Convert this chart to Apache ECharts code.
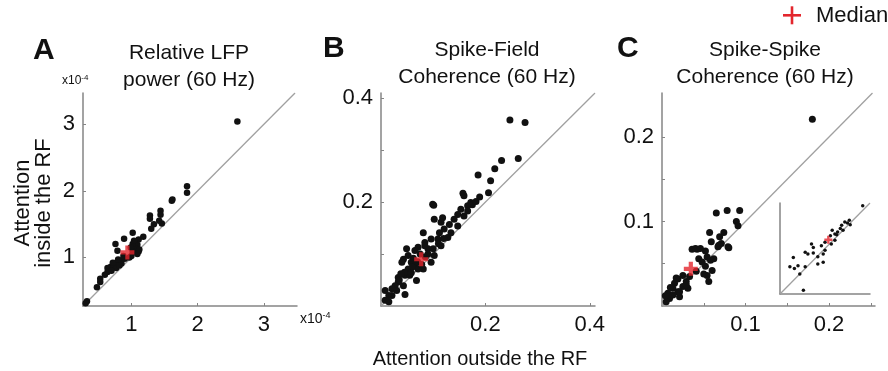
<!DOCTYPE html>
<html><head><meta charset="utf-8">
<script src="https://cdn.jsdelivr.net/npm/echarts@6/dist/echarts.min.js"></script>
<style>html,body{margin:0;padding:0;background:#fff}#c{width:888px;height:371px}</style>
</head><body><div id="c"></div>
<script>
// ---- data ----
const lfpPoints = [[2.60,3.04],[1.84,2.07],[1.84,1.97],[1.61,1.85],[1.62,1.87],[1.44,1.70],[1.44,1.64],[1.46,1.51],[1.42,1.55],[1.34,1.50],[1.28,1.63],[1.28,1.58],[1.30,1.43],[1.18,1.31],[1.11,1.27],[1.02,1.37],[1.09,1.19],[1.11,1.09],[1.06,1.13],[0.89,1.28],[0.76,1.20],[0.79,1.10],[0.84,0.95],[0.79,0.93],[0.74,0.90],[0.69,0.86],[0.64,0.84],[0.77,0.84],[0.64,0.78],[0.53,0.68],[0.48,0.55],[0.53,0.63],[0.33,0.34],[0.31,0.31],[1.02,1.20],[1.04,1.25],[0.97,1.00],[0.90,0.98],[0.85,0.91],[1.02,1.09],[0.99,1.15],[1.09,1.05],[0.80,0.97],[0.72,0.92],[0.88,1.02],[1.00,1.02],[0.70,0.80],[1.12,1.12],[0.82,0.88],[0.60,0.74]];
const lfpMedian = [[0.94,1.075]];
const sfcPoints = [[0.247,0.358],[0.276,0.353],[0.263,0.284],[0.231,0.280],[0.218,0.264],[0.186,0.252],[0.210,0.241],[0.206,0.218],[0.189,0.210],[0.157,0.217],[0.159,0.212],[0.172,0.199],[0.166,0.193],[0.153,0.186],[0.147,0.176],[0.140,0.167],[0.131,0.157],[0.121,0.148],[0.112,0.141],[0.099,0.196],[0.101,0.194],[0.118,0.170],[0.102,0.167],[0.115,0.161],[0.081,0.141],[0.096,0.129],[0.109,0.129],[0.084,0.122],[0.090,0.110],[0.071,0.113],[0.065,0.107],[0.043,0.090],[0.040,0.084],[0.058,0.084],[0.065,0.078],[0.052,0.071],[0.046,0.059],[0.033,0.055],[0.033,0.046],[0.027,0.039],[0.043,0.039],[0.046,0.022],[0.021,0.033],[0.015,0.020],[0.008,0.011],[0.015,0.008],[0.008,0.030],[0.068,0.049],[0.081,0.071],[0.096,0.084],[0.102,0.097],[0.115,0.116],[0.128,0.132],[0.134,0.141],[0.147,0.154],[0.159,0.173],[0.166,0.183],[0.175,0.195],[0.182,0.201],[0.052,0.097],[0.049,0.110],[0.084,0.116],[0.071,0.071],[0.021,0.020],[0.030,0.030],[0.055,0.059],[0.035,0.050],[0.045,0.065],[0.060,0.075],[0.070,0.085],[0.075,0.100],[0.085,0.095],[0.090,0.100],[0.100,0.110],[0.110,0.120],[0.120,0.130],[0.062,0.092],[0.038,0.062],[0.058,0.064],[0.078,0.080]];
const sfcMedian = [[0.077,0.090]];
const sscPoints = [[0.180,0.221],[0.093,0.113],[0.078,0.113],[0.065,0.110],[0.089,0.100],[0.091,0.095],[0.074,0.087],[0.069,0.082],[0.057,0.087],[0.080,0.069],[0.071,0.074],[0.067,0.070],[0.036,0.067],[0.042,0.067],[0.052,0.065],[0.054,0.058],[0.058,0.054],[0.044,0.056],[0.048,0.052],[0.052,0.047],[0.054,0.036],[0.060,0.042],[0.056,0.029],[0.025,0.036],[0.019,0.032],[0.015,0.027],[0.013,0.021],[0.007,0.015],[0.009,0.009],[0.005,0.005],[0.019,0.017],[0.025,0.023],[0.029,0.029],[0.033,0.035],[0.041,0.041],[0.021,0.011],[0.013,0.013],[0.031,0.021],[0.059,0.076],[0.068,0.072],[0.079,0.070],[0.040,0.068],[0.046,0.068],[0.062,0.056],[0.050,0.038],[0.017,0.033],[0.029,0.025],[0.021,0.017],[0.010,0.022],[0.004,0.012]];
const sscMedian = [[0.0345,0.044]];
const insetPoints = [[0.919,0.97],[0.77,0.81],[0.72,0.79],[0.685,0.755],[0.67,0.72],[0.64,0.68],[0.61,0.66],[0.58,0.70],[0.56,0.64],[0.50,0.57],[0.46,0.53],[0.37,0.51],[0.35,0.55],[0.28,0.46],[0.31,0.44],[0.37,0.45],[0.42,0.41],[0.48,0.44],[0.50,0.48],[0.42,0.33],[0.48,0.35],[0.148,0.40],[0.11,0.30],[0.16,0.28],[0.20,0.31],[0.22,0.22],[0.28,0.30],[0.26,0.04],[0.63,0.65],[0.70,0.70],[0.75,0.78],[0.78,0.76],[0.61,0.59],[0.57,0.55]];
const insetMedian = [[0.537,0.596]];
const lfpTicks = [1,2,3];
const sfcXTicks = [0.2,0.4], sfcXLabels = [0.2,0.4];
const sfcYTicks = [0.1,0.2,0.3,0.4], sfcYLabels = [0.2,0.4];
const sscXTicks = [0.05,0.1,0.15,0.2,0.25], sscXLabels = [0.1,0.2];
const sscYTicks = [0.05,0.1,0.15,0.2], sscYLabels = [0.1,0.2];
const ranges = {
  a: {x:[0.27,3.5], y:[0.27,3.47]},
  b: {x:[0,0.41], y:[0,0.41]},
  c: {x:[0,0.255], y:[0,0.252]},
  inset: {x:[0,1], y:[0,1]}
};

const FONT = 'Liberation Sans';
const AX = '#858585';
function axis(gi, rng, ticks, labels, show) {
  return {
    type:'value', gridIndex:gi, min:rng[0], max:rng[1],
    axisLine:{show:true, onZero:false, lineStyle:{color:AX, width:1.5}},
    axisTick:{show:show, inside:true, length:3, customValues:ticks, lineStyle:{color:AX, width:1}},
    axisLabel:{show:show, customValues:labels, color:'#111', fontSize:22, fontFamily:FONT, margin:8},
    splitLine:{show:false}
  };
}
const plus = 'path://M3.5,0h3v3.5h3.5v3h-3.5v3.5h-3v-3.5h-3.5v-3h3.5z';
function diag(i, r) {
  const lo = Math.max(r.x[0], r.y[0]), hi = Math.min(r.x[1], r.y[1]);
  return {type:'line', xAxisIndex:i, yAxisIndex:i, data:[[lo,lo],[hi,hi]], symbol:'none', silent:true,
          lineStyle:{color:'#a0a0a0', width:1.3}, z:1};
}
function dots(i, d, s) {
  return {type:'scatter', xAxisIndex:i, yAxisIndex:i, data:d, symbolSize:s, silent:true,
          itemStyle:{color:'#111', opacity:1}, z:3};
}
function med(i, d, s) {
  return {type:'scatter', xAxisIndex:i, yAxisIndex:i, data:d, symbol:plus, symbolSize:s, silent:true,
          itemStyle:{color:'#e3262d'}, z:5};
}

const chart = echarts.init(document.getElementById('c'), null, {renderer:'canvas'});
chart.setOption({
  animation:false,
  backgroundColor:'#fff',
  textStyle:{fontFamily:FONT},
  grid:[
    {left:83, top:93, width:214, height:213},
    {left:381, top:93, width:214, height:213},
    {left:662, top:93, width:213, height:213},
    {left:780, top:203, width:90, height:91}
  ],
  xAxis:[
    axis(0, ranges.a.x, lfpTicks, lfpTicks, true),
    axis(1, ranges.b.x, sfcXTicks, sfcXLabels, true),
    axis(2, ranges.c.x, sscXTicks, sscXLabels, true),
    axis(3, ranges.inset.x, [], [], false)
  ],
  yAxis:[
    axis(0, ranges.a.y, lfpTicks, lfpTicks, true),
    axis(1, ranges.b.y, sfcYTicks, sfcYLabels, true),
    axis(2, ranges.c.y, sscYTicks, sscYLabels, true),
    axis(3, ranges.inset.y, [], [], false)
  ],
  series:[
    diag(0, ranges.a), dots(0, lfpPoints, 6.5), med(0, lfpMedian, 14),
    diag(1, ranges.b), dots(1, sfcPoints, 7), med(1, sfcMedian, 14),
    diag(2, ranges.c), dots(2, sscPoints, 7), med(2, sscMedian, 14),
    diag(3, ranges.inset), dots(3, insetPoints, 3.5), med(3, insetMedian, 8)
  ],
  graphic:[
    {type:'text', left:33, top:36, style:{text:'A', fontSize:30, fontWeight:'bold', fontFamily:FONT, fill:'#111'}},
    {type:'text', left:323, top:34, style:{text:'B', fontSize:30, fontWeight:'bold', fontFamily:FONT, fill:'#111'}},
    {type:'text', left:617, top:34, style:{text:'C', fontSize:30, fontWeight:'bold', fontFamily:FONT, fill:'#111'}},
    {type:'text', x:189, y:67, style:{text:'Relative LFP\npower (60 Hz)', align:'center', verticalAlign:'middle', lineHeight:27, fontSize:21, fontFamily:FONT, fill:'#111'}},
    {type:'text', x:487, y:64, style:{text:'Spike-Field\nCoherence (60 Hz)', align:'center', verticalAlign:'middle', lineHeight:27, fontSize:21, fontFamily:FONT, fill:'#111'}},
    {type:'text', x:765, y:64, style:{text:'Spike-Spike\nCoherence (60 Hz)', align:'center', verticalAlign:'middle', lineHeight:27, fontSize:21, fontFamily:FONT, fill:'#111'}},
    {type:'text', x:33, y:203, rotation:Math.PI/2, style:{text:'Attention\ninside the RF', align:'center', verticalAlign:'middle', lineHeight:21, fontSize:22, fontFamily:FONT, fill:'#111'}},
    {type:'text', x:480, y:359, style:{text:'Attention outside the RF', align:'center', verticalAlign:'middle', fontSize:20, fontFamily:FONT, fill:'#111'}},
    {type:'text', x:62, y:81, style:{text:'{b|x10}{s|-4}', verticalAlign:'middle', fontFamily:FONT, fill:'#111',
      rich:{b:{fontSize:12, fontFamily:FONT, fill:'#111'}, s:{fontSize:8, fontFamily:FONT, fill:'#111', verticalAlign:'top', padding:[0,0,6,0]}}}},
    {type:'text', x:300, y:319, style:{text:'{b|x10}{s|-4}', verticalAlign:'middle', fontFamily:FONT, fill:'#111',
      rich:{b:{fontSize:14, fontFamily:FONT, fill:'#111'}, s:{fontSize:9, fontFamily:FONT, fill:'#111', verticalAlign:'top', padding:[0,0,7,0]}}}},
    {type:'rect', shape:{x:783, y:14, width:18, height:2.6}, style:{fill:'#e3262d'}},
    {type:'rect', shape:{x:790.7, y:6.3, width:2.6, height:18}, style:{fill:'#e3262d'}},
    {type:'text', x:816, y:16, style:{text:'Median', verticalAlign:'middle', fontSize:22, fontFamily:FONT, fill:'#111'}}
  ]
});
</script>
</body></html>
